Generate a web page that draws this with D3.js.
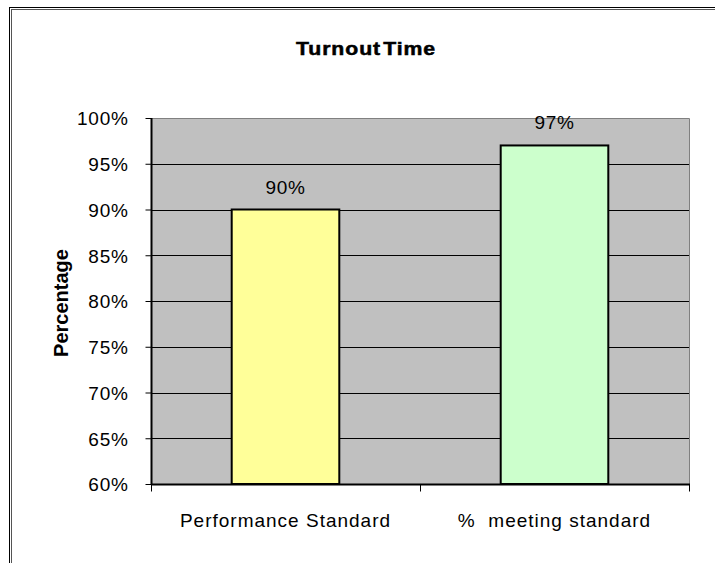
<!DOCTYPE html>
<html>
<head>
<meta charset="utf-8">
<script src="https://cdn.jsdelivr.net/npm/d3@7"></script>
<style>
  body { margin: 0; background: #fff; }
  text { font-family: "Liberation Sans", Arial, sans-serif; }
</style>
</head>
<body>
<script>
var categories = ["Performance Standard", "%  meeting standard"],
	values = [90, 97],
	colors = ["#ffff99", "#ccffcc"],
	yTicks = [60, 65, 70, 75, 80, 85, 90, 95, 100];

var width = 715,
	height = 563,
	plot = {left: 151, top: 118, right: 689, bottom: 484};

var svg = d3.select("body").append("svg")
	.attr("width", width)
	.attr("height", height);

// outer frame (double line, runs off right/bottom)
svg.append("rect").attr("x", 9.5).attr("y", 7.5).attr("width", 720).attr("height", 600)
	.attr("fill", "none").attr("stroke", "#000").attr("stroke-width", 1);
svg.append("rect").attr("x", 11.5).attr("y", 9.5).attr("width", 720).attr("height", 600)
	.attr("fill", "none").attr("stroke", "#555").attr("stroke-width", 1);

var x = d3.scaleBand()
	.domain(categories)
	.range([plot.left, plot.right])
	.paddingInner(0.6)
	.paddingOuter(0.3);

var y = d3.scaleLinear()
	.domain([60, 100])
	.range([plot.bottom, plot.top]);

// plot background
svg.append("rect")
	.attr("x", plot.left).attr("y", plot.top)
	.attr("width", plot.right - plot.left).attr("height", plot.bottom - plot.top)
	.attr("fill", "#c0c0c0");

// gridlines
svg.append("g").selectAll("line")
	.data(yTicks.slice(1, -1))
	.join("line")
	.attr("x1", plot.left).attr("x2", plot.right)
	.attr("y1", d => Math.round(y(d)) + 0.5).attr("y2", d => Math.round(y(d)) + 0.5)
	.attr("stroke", "#000");

// plot border top/right (gray)
svg.append("path")
	.attr("d", "M" + plot.left + "," + (plot.top + 0.5) + "H" + (plot.right + 0.5) + "V" + plot.bottom)
	.attr("fill", "none").attr("stroke", "#808080");

// bars
svg.append("g").selectAll("rect")
	.data(values)
	.join("rect")
	.attr("x", (d, i) => x(categories[i]))
	.attr("y", d => y(d))
	.attr("width", x.bandwidth())
	.attr("height", d => plot.bottom - y(d))
	.attr("fill", (d, i) => colors[i])
	.attr("stroke", "#000")
	.attr("stroke-width", 2);

// value labels
svg.append("g").selectAll("text")
	.data(values)
	.join("text")
	.attr("x", (d, i) => x(categories[i]) + x.bandwidth() / 2)
	.attr("y", d => y(d) - 16)
	.attr("text-anchor", "middle")
	.attr("font-size", 19)
	.attr("letter-spacing", 0.7)
	.text(d => d + "%");

// y axis
var yAxis = svg.append("g")
	.attr("transform", "translate(" + (plot.left + 0.5) + ",0)")
	.call(d3.axisLeft(y).tickValues(yTicks).tickSize(6).tickPadding(17).tickFormat(d => d + "%"));
yAxis.select(".domain").attr("stroke-width", 2).attr("d", "M0," + plot.top + "V" + (plot.bottom + 1));
yAxis.selectAll(".tick text")
	.attr("font-size", 19)
	.attr("letter-spacing", 0.7)
	.attr("font-family", "Liberation Sans, Arial, sans-serif")
	.attr("dy", "0.36em");

// x axis
var xAxis = svg.append("g")
	.attr("transform", "translate(0," + (plot.bottom + 0.5) + ")");
xAxis.append("line")
	.attr("x1", plot.left).attr("x2", plot.right + 1)
	.attr("stroke", "#000").attr("stroke-width", 2);
xAxis.selectAll(".xt")
	.data([plot.left, (plot.left + plot.right) / 2, plot.right])
	.join("line")
	.attr("class", "xt")
	.attr("x1", d => Math.round(d) + 0.5).attr("x2", d => Math.round(d) + 0.5)
	.attr("y1", 0).attr("y2", 7)
	.attr("stroke", "#000");
xAxis.selectAll(".xl")
	.data(categories)
	.join("text")
	.attr("class", "xl")
	.attr("x", d => x(d) + x.bandwidth() / 2)
	.attr("y", 42)
	.attr("text-anchor", "middle")
	.attr("font-size", 19)
	.attr("letter-spacing", 1)
	.style("white-space", "pre")
	.text(d => d);

// title (wide, heavy)
svg.append("text")
	.attr("transform", "translate(366,55) scale(1.18,1)")
	.attr("text-anchor", "middle")
	.attr("font-size", 18)
	.attr("font-weight", "bold")
	.attr("letter-spacing", 0.8)
	.attr("word-spacing", -4)
	.attr("stroke", "#000")
	.attr("stroke-width", 0.5)
	.text("Turnout Time");

// y axis title
svg.append("text")
	.attr("transform", "translate(68," + 303 + ") rotate(-90)")
	.attr("text-anchor", "middle")
	.attr("font-size", 20)
	.attr("font-weight", "bold")
	.text("Percentage");
</script>
</body>
</html>
